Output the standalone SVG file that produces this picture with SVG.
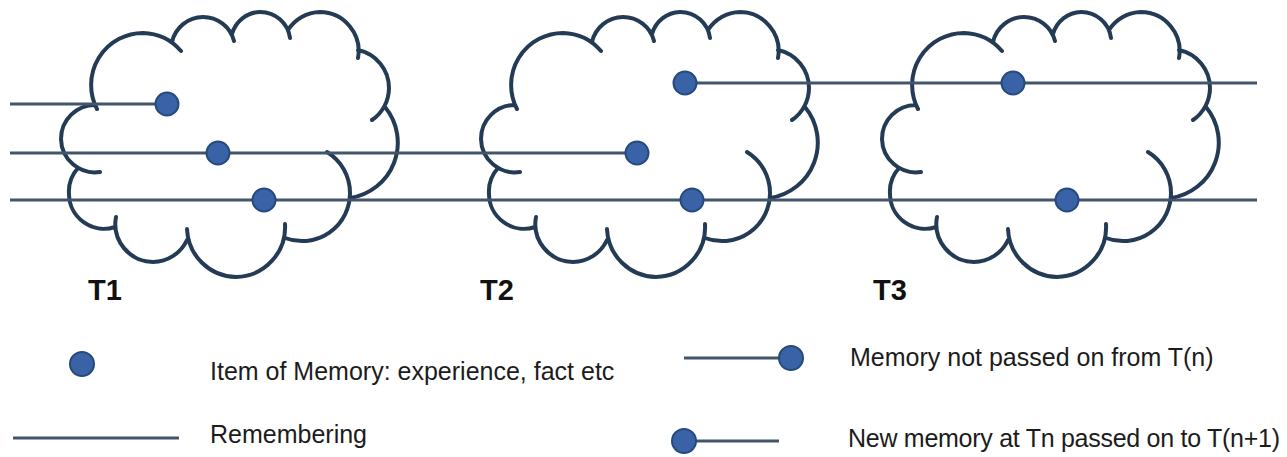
<svg xmlns="http://www.w3.org/2000/svg" xmlns:xlink="http://www.w3.org/1999/xlink" width="1287" height="457" viewBox="0 0 1287 457">
<style>
.cloud{fill:none;stroke:#243b55;stroke-width:4;stroke-linecap:round}
.line{stroke:#41566b;stroke-width:3;fill:none}
.dot{fill:#3a62a6;stroke:#264a7d;stroke-width:2}
.tl{font-family:"Liberation Sans",Arial,sans-serif;font-weight:bold;font-size:29px;fill:#111}
.lg{font-family:"Liberation Sans",Arial,sans-serif;font-size:25px;fill:#1c1c1c}
</style>
<defs>
<path id="cloud" class="cloud" d="M97,109 A52,52 0 0 1 143,33 A52,52 0 0 1 181,51
M172,42 A32,32 0 0 1 203,17 A32,32 0 0 1 234,41
M232,34 A30,30 0 0 1 260,12 A30,30 0 0 1 290,38
M288,30 A39,39 0 0 1 320,12 A39,39 0 0 1 358,58
M358,50 A39,39 0 0 1 389,88 A39,39 0 0 1 372,120
M385,107 A56,56 0 0 1 350,198
M327,152 A48,48 0 0 1 350,193 A48,48 0 0 1 285,238
M285,224 A50,50 0 0 1 236,277 A50,50 0 0 1 187,229
M187,240 A38,38 0 0 1 153,262 A38,38 0 0 1 116,217
M115,227 A35,35 0 0 1 69,194 A35,35 0 0 1 78,168
M100,172 A34,34 0 0 1 61,139 A34,34 0 0 1 95,105"/>
</defs>
<rect width="1287" height="457" fill="#ffffff"/>
<g id="t1">
<use xlink:href="#cloud" href="#cloud"/>
<text class="tl" x="88" y="300">T1</text>
</g>
<g id="t2">
<use xlink:href="#cloud" href="#cloud" transform="translate(420,0)"/>
<text class="tl" x="480" y="300">T2</text>
</g>
<g id="t3">
<use xlink:href="#cloud" href="#cloud" transform="translate(821,0)"/>
<text class="tl" x="873" y="300">T3</text>
</g>
<g id="connectors">
<line class="line" x1="10" y1="104" x2="167" y2="104"/>
<line class="line" x1="10" y1="153" x2="637" y2="153"/>
<line class="line" x1="10" y1="200" x2="1257" y2="200"/>
<line class="line" x1="685" y1="83" x2="1257" y2="83"/>
</g>
<g id="memory-items">
<g id="m1"><ellipse class="dot" cx="167" cy="104" rx="11.5" ry="11.5"/></g>
<g id="m2"><ellipse class="dot" cx="218" cy="153" rx="11.5" ry="11.5"/></g>
<g id="m3"><ellipse class="dot" cx="264" cy="200" rx="11.5" ry="11.5"/></g>
<g id="m4"><ellipse class="dot" cx="685" cy="83" rx="11.5" ry="11.5"/></g>
<g id="m5"><ellipse class="dot" cx="637" cy="153" rx="11.5" ry="11.5"/></g>
<g id="m6"><ellipse class="dot" cx="692" cy="200" rx="11.5" ry="11.5"/></g>
<g id="m7"><ellipse class="dot" cx="1013" cy="83" rx="11.5" ry="11.5"/></g>
<g id="m8"><ellipse class="dot" cx="1067" cy="200" rx="11.5" ry="11.5"/></g>
</g>
<g id="legend">
<ellipse class="dot" cx="82" cy="364" rx="12" ry="12"/>
<text class="lg" x="210" y="380">Item of Memory: experience, fact etc</text>
<line class="line" x1="13" y1="438" x2="179" y2="438" stroke-width="3.5"/>
<text class="lg" x="210" y="443">Remembering</text>
<line class="line" x1="684" y1="358" x2="790" y2="358"/>
<ellipse class="dot" cx="791" cy="358" rx="12" ry="12"/>
<text class="lg" x="850" y="366">Memory not passed on from T(n)</text>
<line class="line" x1="684" y1="441" x2="779" y2="441"/>
<ellipse class="dot" cx="684" cy="441" rx="12" ry="12"/>
<text class="lg" x="848" y="447" textLength="432">New memory at Tn passed on to T(n+1)</text>
</g>
</svg>
